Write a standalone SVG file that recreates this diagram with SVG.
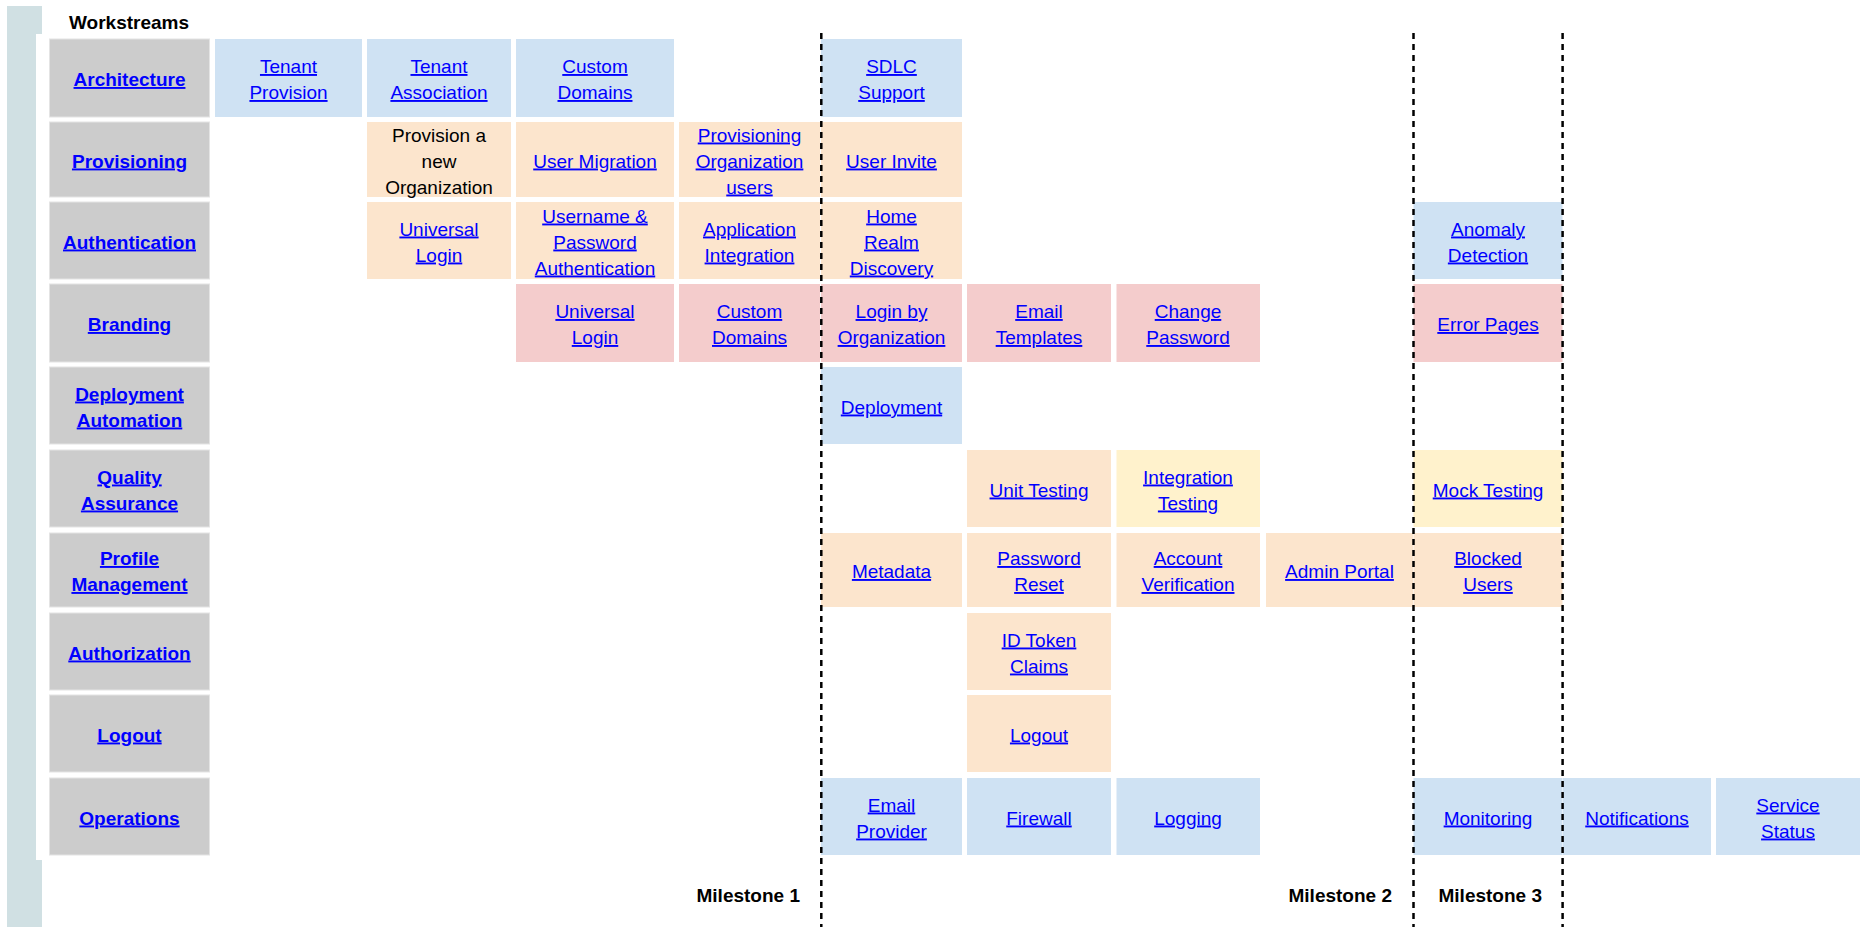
<svg xmlns="http://www.w3.org/2000/svg" width="1865" height="927" viewBox="0 0 1865 927">
<style>
.lbl{fill:#cccccc;stroke:#e4e4e4;stroke-width:1}
.b{fill:#cfe2f3}.p{fill:#fce5cd}.r{fill:#f4cccc}.y{fill:#fff2cc}
text{font-family:"Liberation Sans",Arial,sans-serif;font-size:19px;text-anchor:middle}
.t{fill:#0000ff;text-decoration:underline}
.h{fill:#0000ff;text-decoration:underline;font-weight:bold}
.k{fill:#000000}
.m{fill:#000000;font-weight:bold;text-anchor:end}
.ms{stroke:#000;stroke-width:2.5;stroke-dasharray:6 5;fill:none}
</style>
<rect width="1865" height="927" fill="#ffffff"/>
<g id="sidebar">
<rect x="7" y="6" width="35" height="921" fill="#d0e0e3"/>
<rect x="36" y="34" width="12" height="826" fill="#ffffff"/>
</g>
<text class="m" x="69" y="29" style="text-anchor:start">Workstreams</text>

<g id="label-architecture"><rect class="lbl" x="49.5" y="39" width="160" height="78"/><text class="h" x="129.5" y="86">Architecture</text></g>
<g id="label-provisioning"><rect class="lbl" x="49.5" y="122" width="160" height="75"/><text class="h" x="129.5" y="167.5">Provisioning</text></g>
<g id="label-authentication"><rect class="lbl" x="49.5" y="202" width="160" height="77"/><text class="h" x="129.5" y="248.5">Authentication</text></g>
<g id="label-branding"><rect class="lbl" x="49.5" y="284" width="160" height="78"/><text class="h" x="129.5" y="331">Branding</text></g>
<g id="label-deployment"><rect class="lbl" x="49.5" y="367" width="160" height="77"/><text class="h" x="129.5" y="400.5">Deployment</text><text class="h" x="129.5" y="426.5">Automation</text></g>
<g id="label-quality"><rect class="lbl" x="49.5" y="450" width="160" height="77"/><text class="h" x="129.5" y="483.5">Quality</text><text class="h" x="129.5" y="509.5">Assurance</text></g>
<g id="label-profile"><rect class="lbl" x="49.5" y="533" width="160" height="74"/><text class="h" x="129.5" y="565">Profile</text><text class="h" x="129.5" y="591">Management</text></g>
<g id="label-authorization"><rect class="lbl" x="49.5" y="613" width="160" height="77"/><text class="h" x="129.5" y="659.5">Authorization</text></g>
<g id="label-logout"><rect class="lbl" x="49.5" y="695" width="160" height="77"/><text class="h" x="129.5" y="741.5">Logout</text></g>
<g id="label-operations"><rect class="lbl" x="49.5" y="778" width="160" height="77"/><text class="h" x="129.5" y="824.5">Operations</text></g>

<!-- Architecture row -->
<g id="tenant-provision"><rect class="b" x="215" y="39" width="147" height="78"/><text class="t" x="288.5" y="73">Tenant</text><text class="t" x="288.5" y="99">Provision</text></g>
<g id="tenant-association"><rect class="b" x="367" y="39" width="144" height="78"/><text class="t" x="439" y="73">Tenant</text><text class="t" x="439" y="99">Association</text></g>
<g id="custom-domains-arch"><rect class="b" x="516" y="39" width="158" height="78"/><text class="t" x="595" y="73">Custom</text><text class="t" x="595" y="99">Domains</text></g>
<g id="sdlc-support"><rect class="b" x="821" y="39" width="141" height="78"/><text class="t" x="891.5" y="73">SDLC</text><text class="t" x="891.5" y="99">Support</text></g>

<!-- Provisioning row -->
<g id="provision-new-org"><rect class="p" x="367" y="122" width="144" height="75"/><text class="k" x="439" y="141.5">Provision a</text><text class="k" x="439" y="167.5">new</text><text class="k" x="439" y="193.5">Organization</text></g>
<g id="user-migration"><rect class="p" x="516" y="122" width="158" height="75"/><text class="t" x="595" y="167.5">User Migration</text></g>
<g id="provisioning-org-users"><rect class="p" x="679" y="122" width="141" height="75"/><text class="t" x="749.5" y="141.5">Provisioning</text><text class="t" x="749.5" y="167.5">Organization</text><text class="t" x="749.5" y="193.5">users</text></g>
<g id="user-invite"><rect class="p" x="821" y="122" width="141" height="75"/><text class="t" x="891.5" y="167.5">User Invite</text></g>

<!-- Authentication row -->
<g id="universal-login-auth"><rect class="p" x="367" y="202" width="144" height="77"/><text class="t" x="439" y="235.5">Universal</text><text class="t" x="439" y="261.5">Login</text></g>
<g id="username-password"><rect class="p" x="516" y="202" width="158" height="77"/><text class="t" x="595" y="222.5">Username &amp;</text><text class="t" x="595" y="248.5">Password</text><text class="t" x="595" y="274.5">Authentication</text></g>
<g id="application-integration"><rect class="p" x="679" y="202" width="141" height="77"/><text class="t" x="749.5" y="235.5">Application</text><text class="t" x="749.5" y="261.5">Integration</text></g>
<g id="home-realm-discovery"><rect class="p" x="821" y="202" width="141" height="77"/><text class="t" x="891.5" y="222.5">Home</text><text class="t" x="891.5" y="248.5">Realm</text><text class="t" x="891.5" y="274.5">Discovery</text></g>
<g id="anomaly-detection"><rect class="b" x="1413.5" y="202" width="149" height="77"/><text class="t" x="1488" y="235.5">Anomaly</text><text class="t" x="1488" y="261.5">Detection</text></g>

<!-- Branding row -->
<g id="universal-login-brand"><rect class="r" x="516" y="284" width="158" height="78"/><text class="t" x="595" y="318">Universal</text><text class="t" x="595" y="344">Login</text></g>
<g id="custom-domains-brand"><rect class="r" x="679" y="284" width="141" height="78"/><text class="t" x="749.5" y="318">Custom</text><text class="t" x="749.5" y="344">Domains</text></g>
<g id="login-by-org"><rect class="r" x="821" y="284" width="141" height="78"/><text class="t" x="891.5" y="318">Login by</text><text class="t" x="891.5" y="344">Organization</text></g>
<g id="email-templates"><rect class="r" x="967" y="284" width="144" height="78"/><text class="t" x="1039" y="318">Email</text><text class="t" x="1039" y="344">Templates</text></g>
<g id="change-password"><rect class="r" x="1116.5" y="284" width="143.5" height="78"/><text class="t" x="1188" y="318">Change</text><text class="t" x="1188" y="344">Password</text></g>
<g id="error-pages"><rect class="r" x="1413.5" y="284" width="149" height="78"/><text class="t" x="1488" y="331">Error Pages</text></g>

<!-- Deployment row -->
<g id="deployment"><rect class="b" x="821" y="367" width="141" height="77"/><text class="t" x="891.5" y="413.5">Deployment</text></g>

<!-- Quality row -->
<g id="unit-testing"><rect class="p" x="967" y="450" width="144" height="77"/><text class="t" x="1039" y="496.5">Unit Testing</text></g>
<g id="integration-testing"><rect class="y" x="1116.5" y="450" width="143.5" height="77"/><text class="t" x="1188" y="483.5">Integration</text><text class="t" x="1188" y="509.5">Testing</text></g>
<g id="mock-testing"><rect class="y" x="1413.5" y="450" width="149" height="77"/><text class="t" x="1488" y="496.5">Mock Testing</text></g>

<!-- Profile row -->
<g id="metadata"><rect class="p" x="821" y="533" width="141" height="74"/><text class="t" x="891.5" y="578">Metadata</text></g>
<g id="password-reset"><rect class="p" x="967" y="533" width="144" height="74"/><text class="t" x="1039" y="565">Password</text><text class="t" x="1039" y="591">Reset</text></g>
<g id="account-verification"><rect class="p" x="1116.5" y="533" width="143.5" height="74"/><text class="t" x="1188" y="565">Account</text><text class="t" x="1188" y="591">Verification</text></g>
<g id="admin-portal"><rect class="p" x="1266" y="533" width="147" height="74"/><text class="t" x="1339.5" y="578">Admin Portal</text></g>
<g id="blocked-users"><rect class="p" x="1413.5" y="533" width="149" height="74"/><text class="t" x="1488" y="565">Blocked</text><text class="t" x="1488" y="591">Users</text></g>

<!-- Authorization row -->
<g id="id-token-claims"><rect class="p" x="967" y="613" width="144" height="77"/><text class="t" x="1039" y="646.5">ID Token</text><text class="t" x="1039" y="672.5">Claims</text></g>

<!-- Logout row -->
<g id="logout"><rect class="p" x="967" y="695" width="144" height="77"/><text class="t" x="1039" y="741.5">Logout</text></g>

<!-- Operations row -->
<g id="email-provider"><rect class="b" x="821" y="778" width="141" height="77"/><text class="t" x="891.5" y="811.5">Email</text><text class="t" x="891.5" y="837.5">Provider</text></g>
<g id="firewall"><rect class="b" x="967" y="778" width="144" height="77"/><text class="t" x="1039" y="824.5">Firewall</text></g>
<g id="logging"><rect class="b" x="1116.5" y="778" width="143.5" height="77"/><text class="t" x="1188" y="824.5">Logging</text></g>
<g id="monitoring"><rect class="b" x="1413.5" y="778" width="149" height="77"/><text class="t" x="1488" y="824.5">Monitoring</text></g>
<g id="notifications"><rect class="b" x="1563" y="778" width="148" height="77"/><text class="t" x="1637" y="824.5">Notifications</text></g>
<g id="service-status"><rect class="b" x="1716" y="778" width="144" height="77"/><text class="t" x="1788" y="811.5">Service</text><text class="t" x="1788" y="837.5">Status</text></g>

<g id="connectors">
<line class="ms" x1="821.3" y1="33" x2="821.3" y2="927"/>
<line class="ms" x1="1413.5" y1="33" x2="1413.5" y2="927"/>
<line class="ms" x1="1562.6" y1="33" x2="1562.6" y2="927"/>
</g>
<g id="milestones">
<text class="m" x="800" y="902">Milestone 1</text>
<text class="m" x="1392" y="902">Milestone 2</text>
<text class="m" x="1542" y="902">Milestone 3</text>
</g>
</svg>
